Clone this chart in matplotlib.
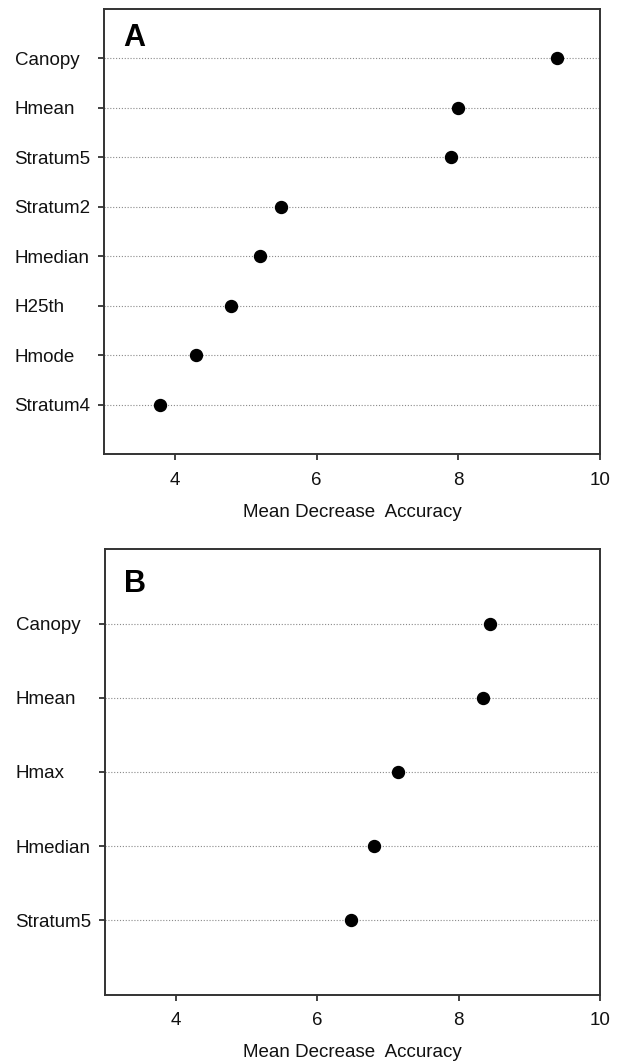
import numpy as np
import matplotlib
matplotlib.use("Agg")
import matplotlib.pyplot as plt

plt.rcParams['font.family'] = ['Liberation Sans', 'DejaVu Sans']

# Panel A data (top to bottom)
labels_a = ["Canopy", "Hmean", "Stratum5", "Stratum2", "Hmedian", "H25th", "Hmode", "Stratum4"]
values_a = [9.39, 8.00, 7.90, 5.50, 5.20, 4.79, 4.30, 3.79]

# Panel B data (top to bottom)
labels_b = ["Canopy", "Hmean", "Hmax", "Hmedian", "Stratum5"]
values_b = [8.45, 8.35, 7.15, 6.80, 6.48]

x_ticks = [4, 6, 8, 10]
x_label = "Mean Decrease  Accuracy"

W, H = 622, 1063
fig = plt.figure(figsize=(W / 100, H / 100), dpi=100)

spine_color = "#333333"
fs = 13.5


def panel(rect, labels, values, tag, tag_y):
    ax = fig.add_axes(rect)
    n = len(labels)
    pos = np.arange(n, 0, -1)
    for p in pos:
        ax.axhline(p, color="#8a8a8a", lw=0.8, ls=(0, (1, 1.6)), zorder=1)
    ax.plot(values, pos, "o", color="black", markersize=8.6, zorder=3)
    ax.set_xlim(3, 10)
    ax.set_ylim(0, n + 1)
    ax.set_xticks(x_ticks)
    ax.set_xticklabels([str(t) for t in x_ticks])
    ax.set_yticks(pos)
    ax.set_yticklabels(labels)
    for t in ax.get_yticklabels():
        t.set_horizontalalignment("left")
    for s in ax.spines.values():
        s.set_color(spine_color)
        s.set_linewidth(1.4)
    ax.tick_params(axis="y", length=4.6, width=1.3, color=spine_color,
                   pad=59.8, labelsize=fs, labelcolor="#111111")
    ax.tick_params(axis="x", length=4.6, width=1.3, color=spine_color,
                   pad=8.3, labelsize=fs, labelcolor="#111111")
    ax.set_xlabel(x_label, fontsize=fs, labelpad=10.5, color="#111111")
    ax.text(0.039, tag_y, tag, transform=ax.transAxes, fontsize=22,
            fontweight="bold", va="baseline", ha="left")
    return ax


panel([104 / W, 1 - 454.3 / H, 496 / W, 445.3 / H], labels_a, values_a, "A", 0.917)
panel([105 / W, 1 - 994.5 / H, 495 / W, 445.2 / H], labels_b, values_b, "B", 0.905)

fig.savefig("out.png", dpi=100, facecolor="white")
